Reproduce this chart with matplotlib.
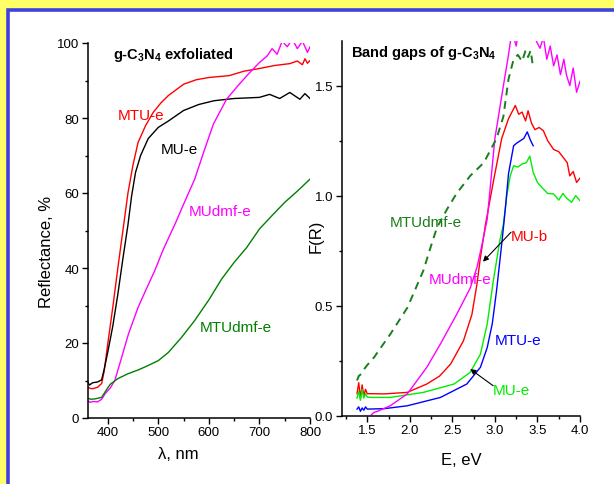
import numpy as np
import matplotlib
matplotlib.use("Agg")
import matplotlib.pyplot as plt
from matplotlib.patches import Rectangle
from matplotlib.lines import Line2D
from matplotlib.ticker import MultipleLocator, FormatStrFormatter

plt.rcParams['font.family'] = ['Liberation Sans', 'DejaVu Sans']
plt.rcParams['mathtext.fontset'] = 'custom'
plt.rcParams['mathtext.bf'] = 'Liberation Sans:bold'
plt.rcParams['mathtext.rm'] = 'Liberation Sans:bold'
plt.rcParams['mathtext.default'] = 'bf'

# ---- left panel: reflectance vs wavelength ----
wl_mtu = [360, 365, 370, 380, 388, 393, 400, 410, 420, 430, 440, 450, 460, 475, 490,
          505, 520, 550, 575, 600, 640, 670, 700, 730, 760, 775, 785, 790, 795, 800]
r_mtu = [8.3, 7.9, 7.8, 8.2, 9.2, 12.5, 19.7, 29.5, 40, 50, 60, 67.5, 73.5, 78, 81.5,
         84, 86, 89, 90.2, 90.8, 91.3, 92.5, 93.2, 94, 94.5, 95.2, 94.2, 95.8, 94.6, 95.3]

wl_mu = [360, 364, 370, 380, 388, 393, 400, 410, 420, 430, 440, 447, 455, 465, 480,
         500, 520, 550, 580, 610, 650, 700, 720, 740, 760, 780, 790, 800]
r_mu = [9.6, 8.8, 9.4, 9.6, 10.2, 13, 17.5, 24.5, 33, 42.5, 51.5, 59, 65.5, 70, 74.5,
        77.5, 79.2, 82, 83.6, 84.6, 85.2, 85.5, 86.3, 85.2, 86.8, 85.0, 86.5, 85.2]

wl_mudmf = [360, 365, 372, 380, 388, 395, 405, 414, 425, 441, 460, 475, 493, 510, 533,
            550, 572, 590, 609, 635, 660, 680, 700, 715, 725, 735, 745, 755, 765, 775,
            785, 795, 800]
r_mudmf = [4.6, 4.2, 4.4, 4.3, 5.0, 6.5, 8.0, 10.0, 15.0, 22.4, 29.5, 34.0, 39.3, 45.0, 51.7,
           57.0, 63.7, 71.0, 78.4, 85.0, 89.0, 92.0, 94.8, 96.5, 98.5, 97.0, 100.5, 99.0, 101,
           98.5, 100.5, 97.5, 99]

wl_mtudmf = [360, 367, 375, 388, 395, 405, 420, 440, 460, 480, 500, 520, 546, 572, 600,
             625, 650, 675, 700, 725, 750, 775, 800]
r_mtudmf = [5.3, 5.0, 5.1, 5.5, 7.0, 9.0, 10.5, 11.8, 12.8, 14.0, 15.3, 17.5, 21.5, 26.0, 31.5,
            37.0, 41.5, 45.5, 50.4, 54.0, 57.5, 60.5, 63.7]

# ---- right panel: F(R) vs energy ----
e_mub = [1.38, 1.40, 1.42, 1.44, 1.46, 1.48, 1.50, 1.55, 1.70, 1.97, 2.20, 2.35, 2.48, 2.63,
         2.73, 2.79, 2.83, 2.89, 2.98, 3.08, 3.16, 3.24, 3.28, 3.32, 3.36, 3.39, 3.43, 3.47,
         3.52, 3.57, 3.62, 3.69, 3.75, 3.80, 3.85, 3.88, 3.92, 3.96, 4.0]
f_mub = [0.10, 0.15, 0.08, 0.14, 0.09, 0.12, 0.10, 0.10, 0.099, 0.106, 0.144, 0.18, 0.235, 0.34,
         0.46, 0.60, 0.72, 0.87, 1.06, 1.26, 1.35, 1.41, 1.37, 1.38, 1.34, 1.386, 1.33, 1.30,
         1.31, 1.295, 1.25, 1.21, 1.2, 1.175, 1.15, 1.09, 1.11, 1.06, 1.08]

e_mue = [1.38, 1.40, 1.42, 1.44, 1.46, 1.48, 1.50, 1.55, 1.77, 2.16, 2.52, 2.71, 2.83, 2.91,
         2.98, 3.06, 3.10, 3.14, 3.18, 3.22, 3.27, 3.32, 3.37, 3.41, 3.45, 3.50, 3.57, 3.62,
         3.69, 3.75, 3.80, 3.84, 3.90, 3.95, 4.0]
f_mue = [0.08, 0.11, 0.07, 0.12, 0.08, 0.10, 0.085, 0.083, 0.083, 0.106, 0.144, 0.197, 0.28, 0.417,
         0.61, 0.80, 0.87, 1.0, 1.09, 1.136, 1.13, 1.144, 1.15, 1.18, 1.106, 1.06, 1.03, 1.01,
         1.008, 0.98, 1.01, 0.99, 0.97, 1.0, 0.977]

e_mtue = [1.38, 1.40, 1.42, 1.44, 1.46, 1.48, 1.50, 1.70, 1.97, 2.36, 2.67, 2.83, 2.91, 2.97,
          3.02, 3.08, 3.12, 3.16, 3.22, 3.26, 3.30, 3.34, 3.38, 3.42, 3.45]
f_mtue = [0.03, 0.04, 0.02, 0.035, 0.025, 0.04, 0.03, 0.032, 0.045, 0.083, 0.144, 0.22, 0.31, 0.42,
          0.57, 0.78, 0.93, 1.10, 1.227, 1.24, 1.25, 1.26, 1.29, 1.25, 1.227]

e_mudmf = [1.55, 1.58, 1.62, 1.77, 1.97, 2.20, 2.36, 2.55, 2.71, 2.79, 2.85, 2.91, 3.00, 3.10,
           3.16, 3.20, 3.25, 3.30, 3.35, 3.40, 3.45, 3.49, 3.53, 3.57, 3.61, 3.65, 3.69, 3.73,
           3.77, 3.81, 3.84, 3.88, 3.92, 3.96, 4.0]
f_mudmf = [0.005, 0.015, 0.02, 0.045, 0.099, 0.22, 0.326, 0.46, 0.58, 0.675, 0.78, 0.894, 1.26, 1.50,
           1.64, 1.75, 1.68, 1.8, 1.76, 1.78, 1.74, 1.70, 1.67, 1.72, 1.62, 1.68, 1.59, 1.64,
           1.55, 1.62, 1.55, 1.5, 1.58, 1.47, 1.52]

e_mtudmf = [1.38, 1.40, 1.43, 1.46, 1.50, 1.58, 1.67, 1.77, 1.87, 1.97, 2.06, 2.16, 2.24, 2.32,
            2.44, 2.55, 2.71, 2.87, 3.02, 3.10, 3.16, 3.22, 3.27, 3.32, 3.36, 3.39, 3.42, 3.45]
f_mtudmf = [0.16, 0.18, 0.19, 0.21, 0.23, 0.265, 0.315, 0.37, 0.43, 0.49, 0.57, 0.66, 0.76, 0.856,
            0.94, 1.01, 1.09, 1.15, 1.26, 1.36, 1.53, 1.62, 1.64, 1.61, 1.66, 1.63, 1.66, 1.58]

fig = plt.figure(figsize=(6.14, 4.85), dpi=100)
fig.patch.set_facecolor('#ffff66')
fig.patch.set_linewidth(0)
# white panel with a blue frame on the left and top only, running off the canvas
x0, y0 = 8 / 614, 1 - 11 / 485
fig.add_artist(Rectangle((x0, -0.5), 2.0, y0 + 0.5, transform=fig.transFigure,
                         facecolor='white', edgecolor='none', zorder=-5))
fig.add_artist(Line2D([x0, x0, 1.5], [-0.5, y0, y0], transform=fig.transFigure,
                      color='#4040e0', lw=2.6, zorder=-4, solid_joinstyle='miter'))

ax1 = fig.add_axes([87.5 / 614, (485 - 419) / 485, 222.5 / 614, 375 / 485])
ax2 = fig.add_axes([341.7 / 614, (485 - 416.7) / 485, 238.3 / 614, 374.7 / 485])

lw = 1.0
ax1.plot(wl_mtu, r_mtu, color='#ff0000', lw=lw)
ax1.plot(wl_mu, r_mu, color='black', lw=lw)
ax1.plot(wl_mudmf, r_mudmf, color='#ff00ff', lw=lw)
ax1.plot(wl_mtudmf, r_mtudmf, color='#008000', lw=lw)
ax1.set_xlim(360, 800)
ax1.set_ylim(0, 100)
ax1.xaxis.set_major_locator(MultipleLocator(100))
ax1.xaxis.set_minor_locator(MultipleLocator(50))
ax1.yaxis.set_major_locator(MultipleLocator(20))
ax1.yaxis.set_minor_locator(MultipleLocator(10))

ax2.plot(e_mub, f_mub, color='#ff0000', lw=lw)
ax2.plot(e_mue, f_mue, color='#00ee00', lw=lw)
ax2.plot(e_mtue, f_mtue, color='#0000ff', lw=lw)
ax2.plot(e_mudmf, f_mudmf, color='#ff00ff', lw=lw)
ax2.plot(e_mtudmf, f_mtudmf, color='#1a7f1a', lw=1.4, dashes=(4, 3))
ax2.set_xlim(1.2, 4.0)
ax2.set_ylim(0, 1.703)
ax2.xaxis.set_major_locator(MultipleLocator(0.5))
ax2.xaxis.set_minor_locator(MultipleLocator(0.25))
ax2.yaxis.set_major_locator(MultipleLocator(0.5))
ax2.yaxis.set_minor_locator(MultipleLocator(0.25))
ax2.yaxis.set_major_formatter(FormatStrFormatter('%.1f'))
ax2.xaxis.set_major_formatter(FormatStrFormatter('%.1f'))

for ax in (ax1, ax2):
    ax.set_facecolor('none')
    for s in ('top', 'right'):
        ax.spines[s].set_visible(False)
    for s in ('left', 'bottom'):
        ax.spines[s].set_linewidth(1.1)
    ax.tick_params(which='major', direction='out', length=4, width=1.0, labelsize=9.5, pad=2)
    ax.tick_params(which='minor', direction='out', length=2.5, width=1.0)

ax1.set_xlabel('λ, nm', fontsize=12)
ax1.xaxis.set_label_coords(0.41, -0.096)
ax1.xaxis.label.set_va('center')
ax1.set_ylabel('Reflectance, %', fontsize=12)
ax1.yaxis.set_label_coords(-0.183, 0.446)
ax1.yaxis.label.set_va('center')

ax2.set_xlabel('E, eV', fontsize=12)
ax2.xaxis.set_label_coords(0.504, -0.116)
ax2.xaxis.label.set_va('center')
ax2.set_ylabel('F(R)', fontsize=12)
ax2.yaxis.set_label_coords(-0.108, 0.482)
ax2.yaxis.label.set_va('center')

fs = 11
ax1.text(410, 95.9, r'g-C$_3$N$_4$ exfoliated', fontsize=10.5, fontweight='bold', va='baseline')
ax1.text(420, 80.8, 'MTU-e', color='#ff0000', fontsize=fs, va='center')
ax1.text(505, 71.7, 'MU-e', color='black', fontsize=fs, va='center')
ax1.text(561, 55.3, 'MUdmf-e', color='#ff00ff', fontsize=fs, va='center')
ax1.text(582, 24.2, 'MTUdmf-e', color='#008000', fontsize=fs, va='center')

ax2.text(1.304, 1.636, r'Band gaps of g-C$_3$N$_4$', fontsize=10.5, fontweight='bold', va='baseline')
ax2.text(1.76, 0.882, 'MTUdmf-e', color='#1a7f1a', fontsize=fs, va='center')
ax2.text(3.19, 0.815, 'MU-b', color='#ff0000', fontsize=fs, va='center')
ax2.text(2.22, 0.62, 'MUdmf-e', color='#ff00ff', fontsize=fs, va='center')
ax2.text(3.0, 0.344, 'MTU-e', color='#0000ff', fontsize=fs, va='center')
ax2.text(2.98, 0.118, 'MU-e', color='#00ee00', fontsize=fs, va='center')

arrow = dict(arrowstyle='-|>', color='black', lw=0.8, mutation_scale=8, shrinkA=0, shrinkB=0)
ax2.annotate('', xy=(2.86, 0.70), xytext=(3.19, 0.834), arrowprops=arrow)
ax2.annotate('', xy=(2.71, 0.212), xytext=(2.98, 0.136), arrowprops=arrow)

fig.savefig('out.png', dpi=100, facecolor=fig.get_facecolor())
